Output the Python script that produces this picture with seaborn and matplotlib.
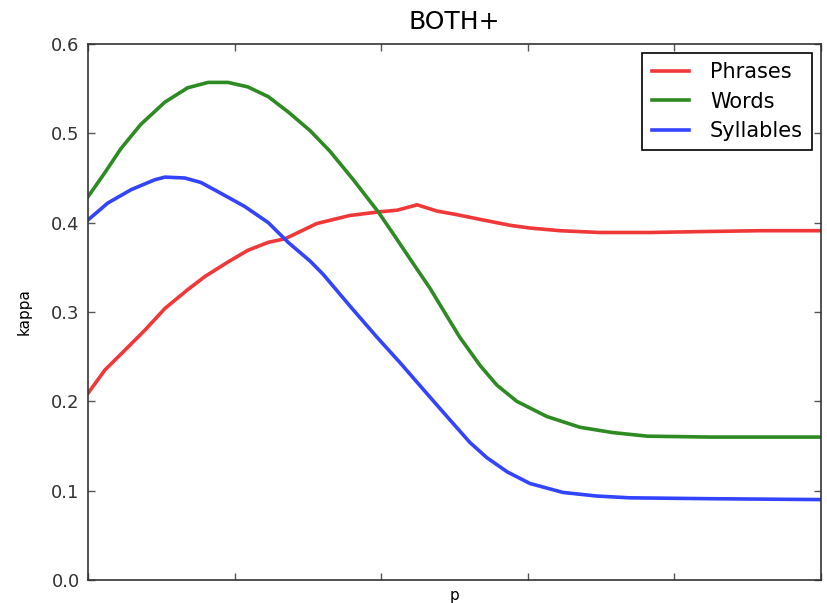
import numpy as np
import pandas as pd
import matplotlib
matplotlib.use("Agg")
import matplotlib.pyplot as plt
import seaborn as sns

# ---- data ----
series_names = ["Phrases", "Words", "Syllables"]

phrases_p = [0.0, 0.023, 0.050, 0.078, 0.105, 0.136, 0.160, 0.191, 0.218, 0.246, 0.269,
             0.312, 0.357, 0.396, 0.422, 0.449, 0.476, 0.503, 0.539, 0.576, 0.603, 0.644,
             0.698, 0.767, 0.835, 0.917, 1.0]
phrases_k = [0.209, 0.235, 0.257, 0.280, 0.304, 0.325, 0.340, 0.356, 0.369, 0.378, 0.382,
             0.399, 0.408, 0.412, 0.414, 0.420, 0.413, 0.409, 0.403, 0.397, 0.394, 0.391,
             0.389, 0.389, 0.390, 0.391, 0.391]

words_p = [0.0, 0.023, 0.045, 0.072, 0.105, 0.136, 0.164, 0.191, 0.218, 0.246, 0.273,
           0.303, 0.330, 0.362, 0.396, 0.416, 0.443, 0.467, 0.484, 0.507, 0.535, 0.558,
           0.585, 0.626, 0.671, 0.716, 0.763, 0.849, 1.0]
words_k = [0.429, 0.456, 0.483, 0.510, 0.535, 0.551, 0.557, 0.557, 0.552, 0.541, 0.524,
           0.503, 0.480, 0.448, 0.412, 0.388, 0.355, 0.326, 0.303, 0.272, 0.240, 0.218,
           0.200, 0.183, 0.171, 0.165, 0.161, 0.160, 0.160]

syll_p = [0.0, 0.027, 0.059, 0.091, 0.105, 0.132, 0.154, 0.181, 0.214, 0.246, 0.273,
          0.303, 0.321, 0.357, 0.394, 0.426, 0.462, 0.494, 0.521, 0.544, 0.572, 0.603,
          0.648, 0.694, 0.739, 0.849, 1.0]
syll_k = [0.403, 0.422, 0.437, 0.448, 0.451, 0.450, 0.445, 0.433, 0.418, 0.400, 0.378,
          0.357, 0.342, 0.307, 0.272, 0.243, 0.209, 0.179, 0.154, 0.137, 0.121, 0.108,
          0.098, 0.094, 0.092, 0.091, 0.090]

y_ticks = [0.0, 0.1, 0.2, 0.3, 0.4, 0.5, 0.6]
x_ticks = [0.0, 0.2, 0.4, 0.6, 0.8, 1.0]

df = pd.concat([
    pd.DataFrame({"p": phrases_p, "kappa": phrases_k, "series": "Phrases"}),
    pd.DataFrame({"p": words_p, "kappa": words_k, "series": "Words"}),
    pd.DataFrame({"p": syll_p, "kappa": syll_k, "series": "Syllables"}),
], ignore_index=True)

palette = {"Phrases": "#f03838", "Words": "#2e8a22", "Syllables": "#3344ff"}

plt.rcParams["font.family"] = ["DejaVu Sans"]
fig = plt.figure(figsize=(8.27, 6.03), dpi=100)
ax = fig.add_axes([88 / 827, (603 - 580) / 603, (821 - 88) / 827, (580 - 44) / 603])

sns.lineplot(data=df, x="p", y="kappa", hue="series", hue_order=series_names,
             palette=palette, linewidth=2.6, estimator=None, sort=False, ax=ax)

ax.set_xlim(0, 1)
ax.set_ylim(0, 0.6)
ax.set_yticks(y_ticks)
ax.set_yticklabels([f"{v:.1f}" for v in y_ticks], fontsize=13, color="#333333")
ax.set_xticks(x_ticks)
ax.set_xticklabels([])
ax.tick_params(direction="in", top=True, right=True, length=5, width=1,
               color="#555555", pad=6)
ax.set_xlabel("p", fontsize=11, labelpad=0)
ax.set_ylabel("kappa", fontsize=11, labelpad=14)
ax.set_title("BOTH+", fontsize=18, pad=11)
for s in ax.spines.values():
    s.set_color("#333333")
    s.set_linewidth(1.2)

leg = ax.legend(loc="upper right", fontsize=15, handlelength=1.8, handletextpad=1.0,
                fancybox=False, framealpha=1, edgecolor="black", borderaxespad=0.42,
                labelspacing=0.45, borderpad=0.45)
leg.get_frame().set_linewidth(1.2)

fig.savefig("out.png", dpi=100)
